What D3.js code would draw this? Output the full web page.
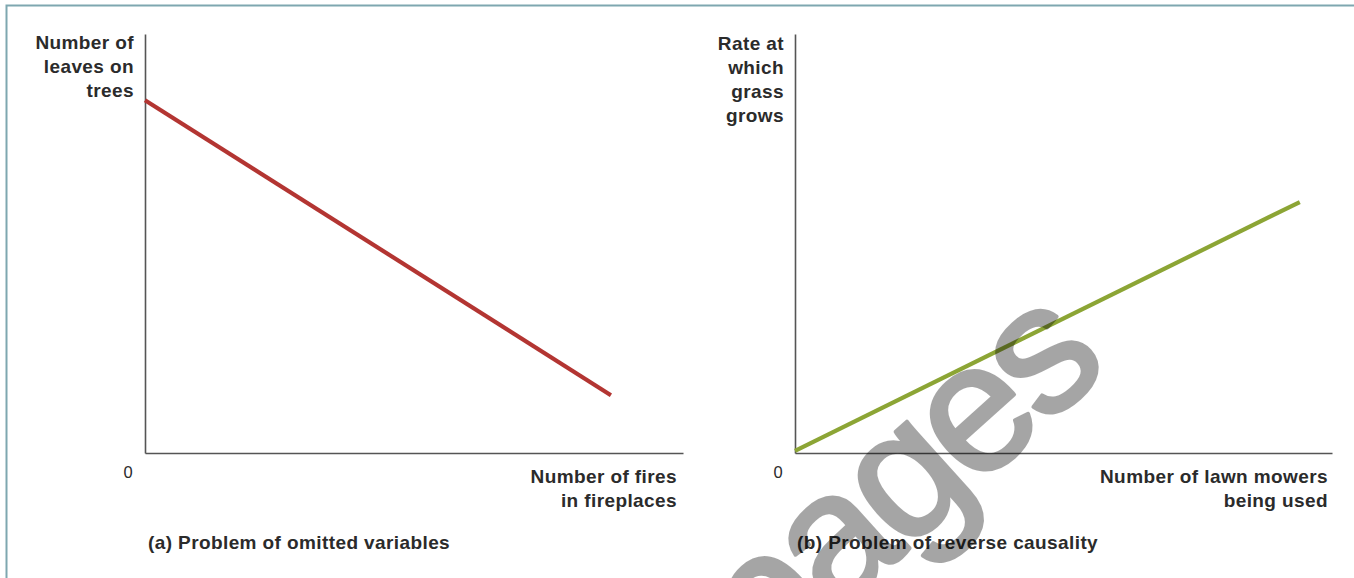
<!DOCTYPE html>
<html>
<head>
<meta charset="utf-8">
<script src="https://cdn.jsdelivr.net/npm/d3@7"></script>
<style>
  html, body { margin: 0; padding: 0; background: #fff; }
  svg { display: block; }
  text { font-family: "Liberation Sans", Arial, Helvetica, sans-serif; fill: #2b2b2b; }
</style>
</head>
<body>
<svg id="chart" width="1354" height="578"></svg>
<script>
// ---- data ----
const panelTitles = ["(a) Problem of omitted variables", "(b) Problem of reverse causality"];
const yLabels = [["Number of", "leaves on", "trees"], ["Rate at", "which", "grass", "grows"]];
const xLabels = [["Number of fires", "in fireplaces"], ["Number of lawn mowers", "being used"]];
const originLabel = "0";
// line end points in data units (0–10 on each axis)
const lineA = [{x: 0, y: 8.42}, {x: 8.66, y: 1.38}];
const lineB = [{x: 0, y: 0.05}, {x: 9.4, y: 5.99}];
const lineColors = ["#b33532", "#8ca535"];
const watermark = "pages";

const svg = d3.select("#chart");

// frame border (top and left)
svg.append("path")
  .attr("d", "M6.5,578 L6.5,5.5 L1354,5.5")
  .attr("fill", "none").attr("stroke", "#7ea7b0").attr("stroke-width", 2);

const panels = [
  {x0: 145, x1: 683, y0: 453, y1: 34, data: lineA, color: lineColors[0],
   yl: yLabels[0], ylRight: 134, ylBase: 48.5,
   xl: xLabels[0], xlRight: 677, zeroX: 128, titleX: 148},
  {x0: 795, x1: 1332, y0: 453, y1: 34, data: lineB, color: lineColors[1],
   yl: yLabels[1], ylRight: 784, ylBase: 50,
   xl: xLabels[1], xlRight: 1328, zeroX: 778, titleX: 797}
];

const boldFont = 19, spacing = 0.4;

panels.forEach((p, i) => {
  const x = d3.scaleLinear().domain([0, 10]).range([p.x0, p.x1]);
  const y = d3.scaleLinear().domain([0, 10]).range([p.y0, p.y1]);
  const g = svg.append("g");

  // axes
  g.append("g").attr("transform", `translate(0,${p.y0})`)
    .call(d3.axisBottom(x).tickValues([]).tickSizeOuter(0))
    .call(s => s.select(".domain").attr("stroke", "#555").attr("stroke-width", 1.6));
  g.append("g").attr("transform", `translate(${p.x0},0)`)
    .call(d3.axisLeft(y).tickValues([]).tickSizeOuter(0))
    .call(s => s.select(".domain").attr("stroke", "#555").attr("stroke-width", 1.6));

  // line
  g.append("path").datum(p.data)
    .attr("d", d3.line().x(d => x(d.x)).y(d => y(d.y)))
    .attr("fill", "none").attr("stroke", p.color).attr("stroke-width", 4.2);

  // y label
  g.append("text").attr("text-anchor", "end")
    .attr("font-weight", "bold").attr("font-size", boldFont).attr("letter-spacing", spacing)
    .selectAll("tspan").data(p.yl).join("tspan")
    .attr("x", p.ylRight).attr("y", (d, k) => p.ylBase + k * 24).text(d => d);

  // x label
  g.append("text").attr("text-anchor", "end")
    .attr("font-weight", "bold").attr("font-size", boldFont).attr("letter-spacing", spacing)
    .selectAll("tspan").data(p.xl).join("tspan")
    .attr("x", p.xlRight).attr("y", (d, k) => 483 + k * 24).text(d => d);

  // origin
  g.append("text").attr("x", p.zeroX).attr("y", 478)
    .attr("text-anchor", "middle").attr("font-size", 16.5).text(originLabel);

  // panel title
  g.append("text").attr("x", p.titleX).attr("y", 549)
    .attr("font-weight", "bold").attr("font-size", boldFont).attr("letter-spacing", spacing)
    .text(panelTitles[i]);
});

// watermark
svg.append("g").attr("opacity", 0.35)
  .append("text")
  .attr("transform", "translate(936,525) rotate(-42)")
  .attr("text-anchor", "middle")
  .attr("font-size", 182)
  .attr("letter-spacing", -7)
  .style("fill", "#000").style("stroke", "#000").style("stroke-width", 4)
  .style("stroke-linejoin", "round")
  .text(watermark);
</script>
</body>
</html>
